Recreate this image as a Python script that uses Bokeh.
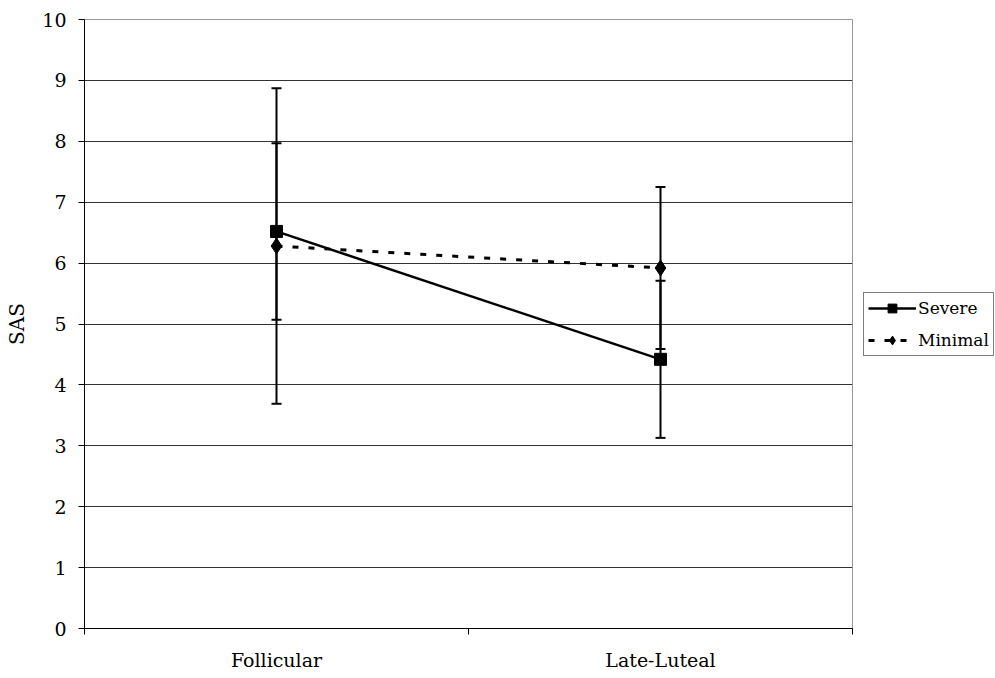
from bokeh.plotting import figure
from bokeh.models import (ColumnDataSource, Whisker, TeeHead, FixedTicker,
                          Legend, LegendItem, Range1d)
from bokeh.embed import file_html
from bokeh.resources import INLINE

# Phases and SAS means with their error half-widths
phases = ["Follicular", "Late-Luteal"]
severe_mean = [6.52, 4.42]
severe_err = [1.45, 1.29]
minimal_mean = [6.28, 5.92]
minimal_err = [2.59, 1.33]
y_ticks = list(range(0, 11))

FONT = "DejaVu Serif"

# phases sit at the centre of each unit-wide slot
xpos = [i + 0.5 for i in range(len(phases))]

p = figure(frame_width=768, frame_height=609, output_backend="svg",
           toolbar_location=None,
           x_range=Range1d(0, len(phases)), y_range=Range1d(0, 10),
           min_border_left=84, min_border_top=19, min_border_bottom=50,
           min_border_right=143)
p.background_fill_color = "white"
p.border_fill_color = "white"
p.outline_line_color = "#999999"
p.outline_line_width = 1

# axes
p.xaxis.ticker = FixedTicker(ticks=xpos, minor_ticks=list(range(len(phases) + 1)))
p.xaxis.major_label_overrides = {x: name for x, name in zip(xpos, phases)}
p.xaxis.major_tick_line_color = None
p.xaxis.minor_tick_out = 6
p.xaxis.minor_tick_in = 0
p.xaxis.minor_tick_line_color = "black"
p.xaxis.axis_line_color = "black"
p.xaxis.major_label_standoff = 14
p.xaxis.major_label_text_font = FONT
p.xaxis.major_label_text_font_size = "19px"
p.xaxis.major_label_text_color = "black"

p.yaxis.ticker = FixedTicker(ticks=y_ticks)
p.yaxis.minor_tick_line_color = None
p.yaxis.major_tick_out = 6
p.yaxis.major_tick_in = 0
p.yaxis.major_tick_line_color = "black"
p.yaxis.axis_line_color = "black"
p.yaxis.major_label_standoff = 12
p.yaxis.major_label_text_font = FONT
p.yaxis.major_label_text_font_size = "19px"
p.yaxis.major_label_text_color = "black"
p.yaxis.axis_label = "SAS"
p.yaxis.axis_label_text_font = FONT
p.yaxis.axis_label_text_font_size = "20px"
p.yaxis.axis_label_text_font_style = "normal"
p.yaxis.axis_label_text_color = "black"
p.yaxis.axis_label_standoff = 10

p.xgrid.grid_line_color = None
p.ygrid.ticker = FixedTicker(ticks=y_ticks)
p.ygrid.grid_line_color = "#333333"
p.ygrid.grid_line_width = 1

sev = ColumnDataSource(dict(
    x=xpos, y=severe_mean,
    lo=[m - e for m, e in zip(severe_mean, severe_err)],
    hi=[m + e for m, e in zip(severe_mean, severe_err)]))
mini = ColumnDataSource(dict(
    x=xpos, y=minimal_mean,
    lo=[m - e for m, e in zip(minimal_mean, minimal_err)],
    hi=[m + e for m, e in zip(minimal_mean, minimal_err)]))

# error bars
for src in (mini, sev):
    w = Whisker(source=src, base="x", upper="hi", lower="lo",
                line_color="black", line_width=2,
                upper_head=TeeHead(size=10, line_color="black", line_width=2),
                lower_head=TeeHead(size=10, line_color="black", line_width=2))
    p.add_layout(w)

# series
sev_line = p.line("x", "y", source=sev, line_color="black", line_width=2.5)
sev_pts = p.scatter("x", "y", source=sev, marker="square", size=12,
                    fill_color="black", line_color="black")
min_line = p.line("x", "y", source=mini, line_color="black", line_width=3,
                  line_dash="6 10")
min_pts = p.scatter("x", "y", source=mini, marker="diamond", size=16,
                    fill_color="black", line_color="black")

# legend to the right of the frame, level with its middle
legend = Legend(items=[
    LegendItem(label="Severe", renderers=[sev_line, sev_pts]),
    LegendItem(label="Minimal", renderers=[min_line, min_pts]),
], location="center_left")
legend.border_line_color = "black"
legend.border_line_width = 1
legend.background_fill_color = "white"
legend.background_fill_alpha = 1
legend.label_text_font = FONT
legend.label_text_font_size = "17px"
legend.label_text_color = "black"
legend.glyph_width = 48
legend.glyph_height = 22
legend.label_height = 22
legend.label_standoff = 2
legend.spacing = 10
legend.padding = 4
legend.margin = 11
p.add_layout(legend, "right")

open("out.html", "w").write(file_html(p, INLINE))
